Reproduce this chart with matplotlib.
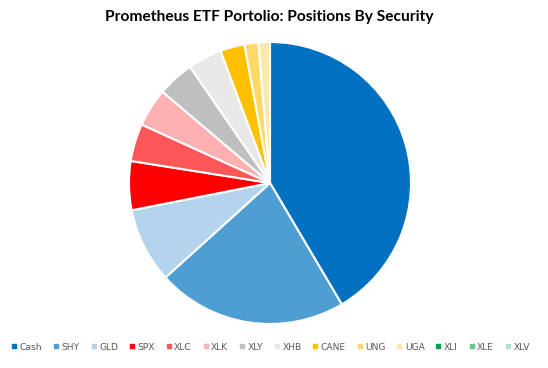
import matplotlib
matplotlib.use("Agg")
import matplotlib.pyplot as plt
from matplotlib.lines import Line2D

labels = ["Cash", "SHY", "GLD", "SPX", "XLC", "XLK", "XLY", "XHB", "CANE", "UNG", "UGA", "XLI", "XLE", "XLV"]
values = [41.5, 21.8, 8.6, 5.6, 4.3, 4.4, 4.2, 3.9, 2.8, 1.6, 1.3, 0.0, 0.0, 0.0]
colors = ["#0070C0", "#4E9ED4", "#B3D4EC", "#FF0000", "#FF5757", "#FFB0B0", "#BFBFBF", "#E8E8E8",
          "#FFC000", "#FFD966", "#FFE8B0", "#00A550", "#5CCB8A", "#A9E6C6"]
title = "Prometheus ETF Portolio: Positions By Security"

fig = plt.figure(figsize=(5.48, 3.68), dpi=100)
fig.patch.set_facecolor("white")
r = 141
ax = fig.add_axes([(270 - r) / 548, (185 - r) / 368, 2 * r / 548, 2 * r / 368])
nz = [(v, c) for v, c in zip(values, colors) if v > 0]
ax.pie([v for v, c in nz], colors=[c for v, c in nz], startangle=90, counterclock=False,
       radius=1, wedgeprops=dict(edgecolor="white", linewidth=1.5))
ax.set_xlim(-1.0, 1.0)
ax.set_ylim(-1.0, 1.0)
ax.set_aspect("equal")
ax.axis("off")

fig.text(0.492, 1 - 17 / 368, title, ha="center", va="center", fontsize=11.2,
         fontweight="bold", family="Lato", color="black")

handles = [Line2D([0], [0], marker="s", linestyle="none", markersize=3.2,
                  markerfacecolor=c, markeredgecolor=c) for c in colors]
leg = fig.legend(handles, labels, loc="center", bbox_to_anchor=(0.494, 1 - 347 / 368), ncol=14,
                 frameon=False, fontsize=6.6, handlelength=0.6, handletextpad=0.3,
                 columnspacing=1.2, borderaxespad=0)
for t in leg.get_texts():
    t.set_color("#595959")

fig.savefig("out.png", dpi=100, facecolor="white")
